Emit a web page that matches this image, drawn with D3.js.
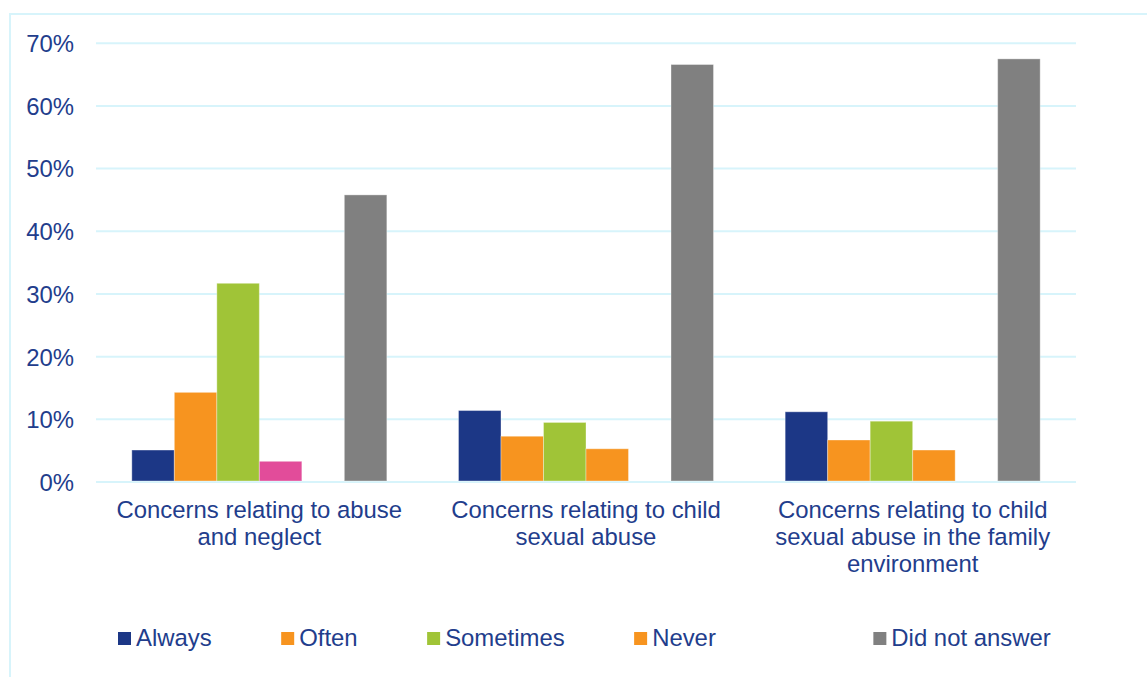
<!DOCTYPE html>
<html>
<head>
<meta charset="utf-8">
<script src="https://cdn.jsdelivr.net/npm/d3@7"></script>
<style>
  html, body { margin: 0; padding: 0; background: #ffffff; }
  svg { display: block; }
  text { font-family: "Liberation Sans", Arial, sans-serif; fill: #223d8c; }
</style>
</head>
<body>
<svg id="chart" width="1147" height="677"></svg>
<script>
// ---- Data ----
const categories = [
  "Concerns relating to abuse and neglect",
  "Concerns relating to child sexual abuse",
  "Concerns relating to child sexual abuse in the family environment"
];
const seriesNames = ["Always", "Often", "Sometimes", "Never", "", "Did not answer"];
const always      = [5.1, 11.4, 11.2];
const often       = [14.3, 7.3, 6.7];
const sometimes   = [31.7, 9.5, 9.7];
const never       = [3.3, 5.3, 5.1];
const blankSeries = [null, null, null];
const didNotAnswer = [45.8, 66.6, 67.5];
const yTicks = [0, 10, 20, 30, 40, 50, 60, 70];

// ---- Styles ----
const seriesColors = ["#1c3786", "#f7941f", "#a0c437", "#f7941f", "none", "#808080"];
const pointColorOverride = { "3-0": "#e24c9a" }; // series 3 (Never), category 0
const gridColor = "#d7f4fb";
const fontSize = "23.9px";

const seriesValues = [always, often, sometimes, never, blankSeries, didNotAnswer];

const svg = d3.select("#chart");

// frame
svg.append("rect")
  .attr("x", 10).attr("y", 14)
  .attr("width", 1200).attr("height", 700)
  .attr("fill", "none")
  .attr("stroke", gridColor)
  .attr("stroke-width", 2);

const plot = { left: 96, right: 1076, top: 43.2, bottom: 482 };

const x0 = d3.scaleBand().domain(categories).range([plot.left, plot.right]).paddingInner(0).paddingOuter(0);
const x1 = d3.scaleBand().domain(d3.range(seriesNames.length)).range([0, x0.bandwidth()]).paddingInner(0).paddingOuter(0.843);
const y = d3.scaleLinear().domain([0, 70]).range([plot.bottom, plot.top]);

// gridlines
svg.append("g").selectAll("line").data(yTicks).join("line")
  .attr("x1", plot.left).attr("x2", plot.right)
  .attr("y1", d => y(d)).attr("y2", d => y(d))
  .attr("stroke", gridColor).attr("stroke-width", 2);

// y axis labels
const yAxis = d3.axisLeft(y).tickValues(yTicks).tickFormat(d => d + "%").tickSize(0).tickPadding(0);
const yg = svg.append("g").attr("transform", `translate(74,0)`).call(yAxis);
yg.select(".domain").remove();
yg.selectAll("text")
  .attr("font-size", fontSize)
  .attr("font-family", "Liberation Sans, Arial, sans-serif")
  .attr("fill", "#223d8c")
  .attr("dy", "0.35em");

// bars
const barData = [];
seriesValues.forEach((vals, si) => {
  vals.forEach((v, ci) => {
    if (v !== null && v !== undefined) barData.push({ si, ci, v });
  });
});
svg.append("g").selectAll("rect").data(barData).join("rect")
  .attr("x", d => x0(categories[d.ci]) + x1(d.si))
  .attr("width", x1.bandwidth())
  .attr("y", d => y(d.v))
  .attr("height", d => y(0) - y(d.v) - 1)
  .attr("fill", d => pointColorOverride[d.si + "-" + d.ci] || seriesColors[d.si])
  .attr("stroke", "#ffffff")
  .attr("stroke-opacity", 0.35)
  .attr("stroke-width", 1);

// category labels (wrapped)
const catG = svg.append("g");
categories.forEach(cat => {
  const cx = x0(cat) + x0.bandwidth() / 2;
  const t = catG.append("text")
    .attr("x", cx).attr("y", 518)
    .attr("text-anchor", "middle")
    .attr("font-size", fontSize);
  const words = cat.split(" ");
  let line = [];
  let lineNo = 0;
  let tspan = t.append("tspan").attr("x", cx).attr("y", 518);
  const maxW = x0.bandwidth() - 4;
  words.forEach(w => {
    line.push(w);
    tspan.text(line.join(" "));
    if (tspan.node().getComputedTextLength() > maxW && line.length > 1) {
      line.pop();
      tspan.text(line.join(" "));
      line = [w];
      lineNo++;
      tspan = t.append("tspan").attr("x", cx).attr("y", 518 + lineNo * 27).text(w);
    }
  });
});

// legend
const leg = svg.append("g");
let lx = 118;
const gap = 69.5;
seriesNames.forEach((name, i) => {
  if (name === "") { lx += 88; return; }
  leg.append("rect")
    .attr("x", lx).attr("y", 632)
    .attr("width", 13).attr("height", 13)
    .attr("fill", seriesColors[i]);
  const t = leg.append("text")
    .attr("x", lx + 18).attr("y", 646)
    .attr("font-size", fontSize)
    .text(name);
  lx = lx + 18 + t.node().getComputedTextLength() + gap;
});
</script>
</body>
</html>
